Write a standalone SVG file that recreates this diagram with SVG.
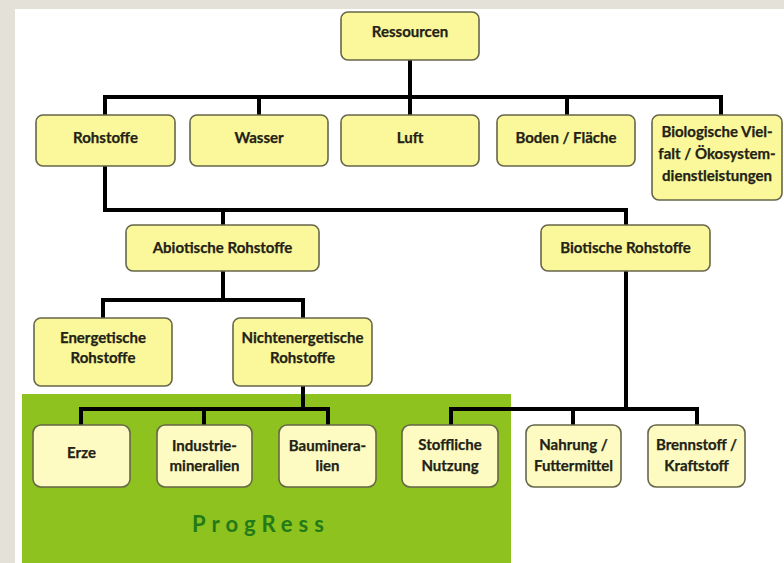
<svg xmlns="http://www.w3.org/2000/svg" width="784" height="563" viewBox="0 0 784 563">
<style>
.n rect{fill:#fbf79b;stroke:#66664a;stroke-width:1.6}
.n.l rect{fill:#fdfbc2}
.n text{font-family:Lato,"Open Sans","Liberation Sans",sans-serif;font-weight:bold;font-size:15px;fill:#222215;text-anchor:middle;stroke:#222215;stroke-width:0.25}
#connectors path{fill:none;stroke:#000;stroke-width:4;stroke-linejoin:miter;stroke-linecap:butt}
</style>
<rect x="0" y="0" width="784" height="563" fill="#e3e1d8"/>
<rect x="15" y="9" width="769" height="554" fill="#ffffff"/>
<rect x="22" y="394" width="489" height="169" fill="#8dc21f"/>
<text x="261" y="532" font-family="Lato,'Open Sans','Liberation Sans',sans-serif" font-weight="bold" font-size="22" letter-spacing="6" fill="#237a17" text-anchor="middle">ProgRess</text>
<g id="connectors">
<path d="M410 60 V97 M105 97 H721 M105 95 V115 M259 97 V115 M410 97 V115 M567 97 V115 M721 95 V115"/>
<path d="M105 166 V210 H626 V225 M223 210 V225"/>
<path d="M223 271 V300 M103 300 H303 M103 298 V318 M303 298 V318"/>
<path d="M303 386 V409 M81 409 H328 M81 407 V425 M204 409 V425 M328 407 V425"/>
<path d="M626 271 V409 M451 409 H697 M451 407 V425 M573 409 V425 M697 407 V425"/>
</g>
<g id="n-ressourcen" class="n"><rect x="341" y="12" width="138" height="48" rx="7"/><text x="410" y="37">Ressourcen</text></g>
<g id="n-rohstoffe" class="n"><rect x="36" y="115" width="139" height="51" rx="7"/><text x="105.5" y="143">Rohstoffe</text></g>
<g id="n-wasser" class="n"><rect x="190" y="115" width="138" height="51" rx="7"/><text x="259" y="143">Wasser</text></g>
<g id="n-luft" class="n"><rect x="341" y="115" width="138" height="51" rx="7"/><text x="410" y="143">Luft</text></g>
<g id="n-boden" class="n"><rect x="497" y="115" width="138" height="51" rx="7"/><text x="566" y="143">Boden / Fläche</text></g>
<g id="n-bio" class="n"><rect x="652" y="115" width="130" height="85" rx="7"/><text x="717" y="137">Biologische Viel-</text><text x="717" y="159">falt / Ökosystem-</text><text x="717" y="181">dienstleistungen</text></g>
<g id="n-abiotisch" class="n"><rect x="126" y="225" width="193" height="46" rx="7"/><text x="222.5" y="253">Abiotische Rohstoffe</text></g>
<g id="n-biotisch" class="n"><rect x="541" y="225" width="169" height="46" rx="7"/><text x="625.5" y="253">Biotische Rohstoffe</text></g>
<g id="n-energetisch" class="n"><rect x="34" y="318" width="138" height="68" rx="7"/><text x="103" y="343">Energetische</text><text x="103" y="363">Rohstoffe</text></g>
<g id="n-nichtenergetisch" class="n"><rect x="233" y="318" width="139" height="68" rx="7"/><text x="302.5" y="343">Nichtenergetische</text><text x="302.5" y="363">Rohstoffe</text></g>
<g id="n-erze" class="n l"><rect x="33" y="425" width="97" height="62" rx="8"/><text x="81.5" y="458">Erze</text></g>
<g id="n-industrie" class="n l"><rect x="157" y="425" width="95" height="62" rx="8"/><text x="204.5" y="451">Industrie-</text><text x="204.5" y="471">mineralien</text></g>
<g id="n-bauminera" class="n l"><rect x="279" y="425" width="97" height="62" rx="8"/><text x="327.5" y="451">Bauminera-</text><text x="327.5" y="471">lien</text></g>
<g id="n-stofflich" class="n l"><rect x="402" y="425" width="96" height="62" rx="8"/><text x="450" y="450">Stoffliche</text><text x="450" y="471">Nutzung</text></g>
<g id="n-nahrung" class="n l"><rect x="526" y="425" width="95" height="62" rx="8"/><text x="573.5" y="450">Nahrung /</text><text x="573.5" y="471">Futtermittel</text></g>
<g id="n-brennstoff" class="n l"><rect x="648" y="425" width="97" height="62" rx="8"/><text x="696.5" y="450">Brennstoff /</text><text x="696.5" y="471">Kraftstoff</text></g>
</svg>
